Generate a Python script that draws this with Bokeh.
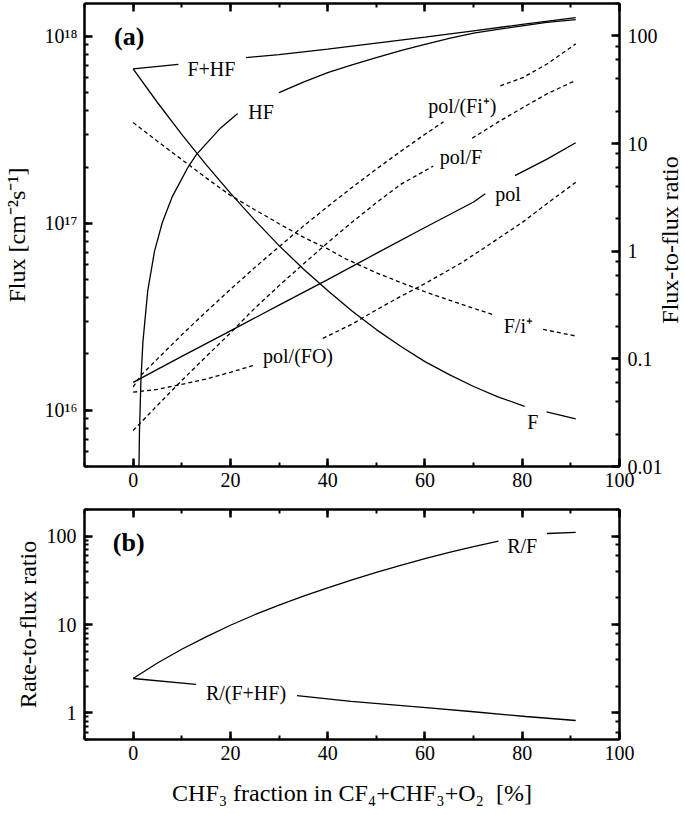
import math
import numpy as np
from bokeh.plotting import figure
from bokeh.models import (Range1d, LogAxis, LinearAxis, LogScale, Label, Div,
                          SingleIntervalTicker, CustomJSTickFormatter)
from bokeh.layouts import column, row
from bokeh.embed import file_html
from bokeh.resources import INLINE

nan = float("nan")

# ---------------- panel (a): fluxes [cm^-2 s^-1] (left axis) ----------------
fhf_x = [0, 9.3, nan, 23.2, 30, 40, 50, 60, 70, 80, 91]
fhf_y = [6.7e17, 7.08e17, nan, 7.7e17, 8.0e17, 8.55e17, 9.2e17, 9.9e17, 1.07e18, 1.16e18, 1.26e18]

f_x = [0, 5, 10, 15, 20, 25, 30, 35, 40, 45, 50, 55, 60, 65, 70, 75, 80.5, nan, 85, 91]
f_y = [6.7e17, 4.43e17, 2.99e17, 2.06e17, 1.45e17, 1.04e17, 7.6e16, 5.7e16, 4.37e16, 3.4e16,
       2.7e16, 2.2e16, 1.82e16, 1.55e16, 1.34e16, 1.18e16, 1.05e16, nan, 9.8e15, 9.0e15]

hf_x = [1.15, 1.3, 1.6, 2, 3, 4.4, 6, 8, 11.3, 13, 15, 18, 21.5, nan,
        30, 35, 40, 45, 50, 55, 60, 65, 70, 75, 80, 85, 91]
hf_y = [4.0e15, 7.6e15, 1.44e16, 2.3e16, 4.35e16, 7.1e16, 1.01e17, 1.38e17, 2.0e17, 2.33e17,
        2.66e17, 3.24e17, 3.87e17, nan,
        5.0e17, 5.7e17, 6.4e17, 7.05e17, 7.7e17, 8.4e17, 9.06e17, 9.75e17, 1.04e18, 1.09e18,
        1.14e18, 1.19e18, 1.23e18]

pol_x = [0, 10, 20, 30, 40, 50, 60, 70, 72.4, nan, 78.5, 85, 91]
pol_y = [1.41e16, 1.94e16, 2.66e16, 3.65e16, 5.0e16, 6.9e16, 9.5e16, 1.3e17, 1.44e17, nan,
         1.8e17, 2.2e17, 2.7e17]

# ---------------- panel (a): flux-to-flux ratios (right axis) ----------------
polfi_x = [0, 1.7, 5, 10, 15, 20, 25, 30, 35, 40, 45, 50, 55, 60, 63.8, nan, 75.5, 80, 85, 91]
polfi_y = [0.055, 0.071, 0.100, 0.167, 0.274, 0.442, 0.704, 1.10, 1.71, 2.60, 3.91, 5.79,
           8.46, 12.2, 15.9, nan, 34.4, 40.7, 54.5, 84.3]

polf_x = [0, 5, 10, 15, 20, 24.2, 30, 35, 40, 45, 50, 55, 61.7, nan, 69.7, 75, 80, 85, 91]
polf_y = [0.0216, 0.037, 0.063, 0.105, 0.174, 0.272, 0.479, 0.76, 1.20, 1.86, 2.82, 4.17,
          6.17, nan, 11.2, 15.8, 21.4, 28.8, 38.6]

polfo_x = [0, 5, 10, 15, 20, 24.8, nan, 39, 45, 50, 55, 60, 67.3, 72, 80, 85, 91]
polfo_y = [0.049, 0.052, 0.058, 0.065, 0.075, 0.087, nan, 0.155, 0.21, 0.285, 0.38, 0.50,
           0.77, 1.06, 1.85, 2.75, 4.36]

fi_x = [0, 5, 10, 15, 20, 25, 30, 35, 40, 43.7, 50, 55, 60, 67.3, 74, nan, 84.3, 91]
fi_y = [15.7, 10.5, 7.1, 4.8, 3.30, 2.43, 1.80, 1.35, 1.05, 0.85, 0.63, 0.513, 0.42, 0.324,
        0.257, nan, 0.188, 0.163]

# ---------------- panel (b): rate-to-flux ratios ----------------
rf_x = [0, 5, 10, 15, 20, 25, 30, 35, 40, 45, 50, 55, 60, 65, 70, 75.1, nan, 85.1, 91]
rf_y = [2.45, 3.67, 5.25, 7.24, 9.8, 12.9, 16.6, 20.9, 26.0, 32.0, 38.9, 46.8, 55.6, 65.3,
        75.9, 87.7, nan, 107, 110]

rfhf_x = [0, 12.9, nan, 33.7, 44.8, 60.2, 70, 80.7, 91]
rfhf_y = [2.45, 2.10, nan, 1.57, 1.35, 1.15, 1.03, 0.91, 0.82]

# curve labels (text, x, y in left-axis units)
labels_a = [("F+HF", 16.1, 6.7e17), ("HF", 26.3, 3.96e17), ("pol/(Fi\u207a)", 67.7, 4.26e17),
            ("pol/F", 67.4, 2.25e17), ("pol", 77.1, 1.44e17), ("F/i\u207a", 79.2, 2.84e16),
            ("pol/(FO)", 33.9, 1.96e16), ("F", 82.2, 8.6e15)]
labels_b = [("R/F", 80, 78), ("R/(F+HF)", 23.2, 1.70)]

FONT = "Liberation Serif"
LW = 1.3
DASH = "4 3"

exp_fmt = CustomJSTickFormatter(code="""
const e = Math.round(Math.log10(tick));
const s = {"0":"\u2070","1":"\u00b9","2":"\u00b2","3":"\u00b3","4":"\u2074","5":"\u2075","6":"\u2076","7":"\u2077","8":"\u2078","9":"\u2079","-":"\u207b"};
return "10" + String(e).split("").map(c => s[c]).join("");
""")

def ratio_fmt():
    return CustomJSTickFormatter(code="""
const e = Math.round(Math.log10(tick));
return e >= 0 ? String(Math.pow(10, e)) : Math.pow(10, e).toFixed(-e);
""")

def style_axis(ax, labels=True):
    ax.axis_line_width = 2.5
    ax.axis_line_color = "black"
    ax.major_tick_in = 8
    ax.major_tick_out = 0
    ax.minor_tick_in = 4
    ax.minor_tick_out = 0
    ax.major_tick_line_width = 2.5
    ax.minor_tick_line_width = 2
    ax.major_tick_line_color = "black"
    ax.minor_tick_line_color = "black"
    ax.major_label_text_font = FONT
    ax.major_label_text_font_size = "20px"
    ax.major_label_text_color = "black"
    ax.axis_label_text_font = FONT
    ax.axis_label_text_font_size = "24px"
    ax.axis_label_text_font_style = "normal"
    ax.axis_label_text_color = "black"
    if not labels:
        ax.formatter = CustomJSTickFormatter(code="return ''")
        ax.major_label_text_font_size = "1px"
        ax.major_label_standoff = 0

def xticker():
    return SingleIntervalTicker(interval=20, num_minor_ticks=2)

FW = 535
LB = 83
RB = 44

# ---------------- figure (a) ----------------
p1 = figure(frame_width=FW, frame_height=463, x_range=Range1d(-10, 100),
            y_range=Range1d(5e15, 1.5e18), y_axis_type="log",
            output_backend="svg", toolbar_location=None,
            min_border_left=LB, min_border_right=RB, min_border_top=3, min_border_bottom=0)
p1.extra_y_ranges = {"ratio": Range1d(0.01, 200)}
p1.extra_y_scales = {"ratio": LogScale()}
p1.grid.visible = False
p1.outline_line_color = None

bax = p1.xaxis[0]
bax.ticker = xticker()
style_axis(bax)
bax.major_label_standoff = 6

lax = p1.yaxis[0]
style_axis(lax)
lax.formatter = exp_fmt
lax.axis_label = "Flux [cm\u207b\u00b2s\u207b\u00b9]"
lax.major_label_standoff = 7
lax.axis_label_standoff = 12

rax = LogAxis(y_range_name="ratio")
style_axis(rax)
rax.formatter = ratio_fmt()
rax.major_label_standoff = 8
p1.add_layout(rax, "right")

tax = LinearAxis(ticker=xticker())
style_axis(tax, labels=False)
p1.add_layout(tax, "above")

p1.line(np.array(fhf_x), np.array(fhf_y), line_color="black", line_width=LW)
p1.line(np.array(f_x), np.array(f_y), line_color="black", line_width=LW)
p1.line(np.array(hf_x), np.array(hf_y), line_color="black", line_width=LW)
p1.line(np.array(pol_x), np.array(pol_y), line_color="black", line_width=LW)
for xs, ys in [(polfi_x, polfi_y), (polf_x, polf_y), (polfo_x, polfo_y), (fi_x, fi_y)]:
    p1.line(np.array(xs), np.array(ys), line_color="black", line_width=LW,
            line_dash=DASH, y_range_name="ratio")

for t, x, y in labels_a:
    p1.add_layout(Label(x=x, y=y, text=t, text_font=FONT, text_font_size="20px",
                        text_align="center", text_baseline="middle", text_color="black"))
p1.add_layout(Label(x=-0.8, y=1.0e18, text="(a)", text_font=FONT, text_font_size="26px",
                    text_font_style="bold", text_align="center", text_baseline="middle",
                    text_color="black"))

# ---------------- figure (b) ----------------
p2 = figure(frame_width=FW, frame_height=230, x_range=Range1d(-10, 100),
            y_range=Range1d(0.5, 200), y_axis_type="log",
            output_backend="svg", toolbar_location=None,
            min_border_left=LB, min_border_right=RB, min_border_top=20, min_border_bottom=0)
p2.grid.visible = False
p2.outline_line_color = None

bax2 = p2.xaxis[0]
bax2.ticker = xticker()
style_axis(bax2)
bax2.major_label_standoff = 6
bax2.axis_label = "CHF\u2083 fraction in CF\u2084+CHF\u2083+O\u2082\u00a0 [%]"
bax2.axis_label_standoff = 17

lax2 = p2.yaxis[0]
style_axis(lax2)
lax2.formatter = ratio_fmt()
lax2.axis_label = "Rate-to-flux ratio"
lax2.major_label_standoff = 8
lax2.axis_label_standoff = 3

rax2 = LogAxis()
style_axis(rax2, labels=False)
p2.add_layout(rax2, "right")

tax2 = LinearAxis(ticker=xticker())
style_axis(tax2, labels=False)
p2.add_layout(tax2, "above")

p2.line(np.array(rf_x), np.array(rf_y), line_color="black", line_width=LW)
p2.line(np.array(rfhf_x), np.array(rfhf_y), line_color="black", line_width=LW)

for t, x, y in labels_b:
    p2.add_layout(Label(x=x, y=y, text=t, text_font=FONT, text_font_size="20px",
                        text_align="center", text_baseline="middle", text_color="black"))
p2.add_layout(Label(x=-0.9, y=85, text="(b)", text_font=FONT, text_font_size="26px",
                    text_font_style="bold", text_align="center", text_baseline="middle",
                    text_color="black"))

# right-hand title of panel (a), reading bottom-to-top as in the reference
right_title = Div(
    text=('<svg width="12" height="470" style="display:block;overflow:visible">'
          '<text x="8" y="235" transform="rotate(-90 8 235)" text-anchor="middle" '
          'style="font-family:\'Liberation Serif\',\'Times New Roman\',serif;'
          'font-size:24px;font-weight:normal;font-style:normal;fill:#000">'
          'Flux-to-flux ratio</text></svg>'),
    width=12, height=470)

layout = row(column(p1, p2), right_title)
open("out.html", "w").write(file_html(layout, INLINE))
